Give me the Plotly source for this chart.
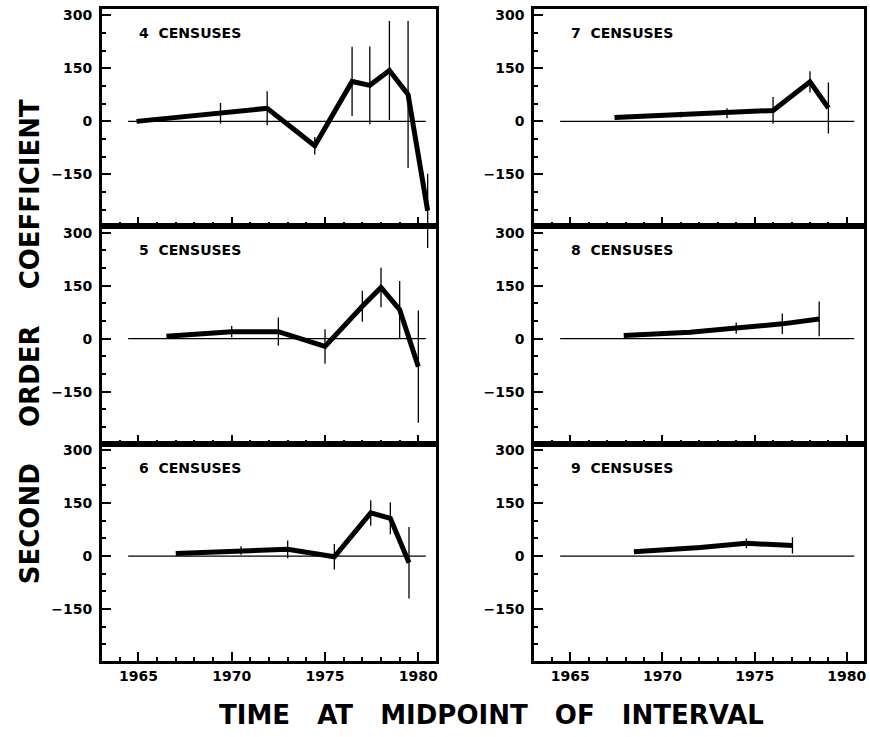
import plotly.graph_objects as go

# ---------------- data ----------------
panel_labels = ["4  CENSUSES", "5  CENSUSES", "6  CENSUSES",
                "7  CENSUSES", "8  CENSUSES", "9  CENSUSES"]

x4 = [1964.9, 1969.4, 1971.9, 1974.45, 1976.45, 1977.4, 1978.45, 1979.45, 1980.5]
y4 = [0, 23, 37, -69, 113, 102, 144, 76, -253]
e4 = [0, 29, 48, 25, 98, 110, 140, 208, 105]

x5 = [1966.5, 1970.0, 1972.5, 1975.0, 1977.0, 1978.0, 1979.0, 1980.0]
y5 = [7, 20, 20, -22, 92, 145, 82, -79]
e5 = [0, 16, 40, 49, 44, 56, 81, 159]

x6 = [1967.0, 1970.5, 1973.0, 1975.5, 1977.45, 1978.5, 1979.5]
y6 = [7, 16, 19, -2, 122, 107, -19]
e6 = [0, 12, 25, 36, 36, 45, 101]

x7 = [1967.4, 1971.0, 1973.5, 1976.0, 1978.0, 1979.0]
y7 = [11, 19, 23, 31, 112, 38]
e7 = [0, 8, 14, 38, 30, 72]

x8 = [1967.9, 1971.5, 1974.0, 1976.5, 1978.5]
y8 = [9, 18, 30, 42, 56]
e8 = [0, 6, 16, 29, 49]

x9 = [1968.45, 1972.05, 1974.55, 1977.05]
y9 = [12, 24, 36, 30]
e9 = [0, 6, 14, 23]

zero_line_x = [1964.45, 1980.4]
zero_line_y = [0, 0]

x_ticks = [1965, 1970, 1975, 1980]
y_ticks = [-150, 0, 150, 300]

series = [(x4, y4, e4), (x5, y5, e5), (x6, y6, e6),
          (x7, y7, e7), (x8, y8, e8), (x9, y9, e9)]

# ---------------- layout helpers ----------------
FONT = "DejaVu Sans"
W, H = 870, 737
ML, MR, MT, MB = 102, 3, 9, 76
PW = W - ML - MR

col_domains = [[0, 335 / PW], [434 / PW, 1.0]]
row_domains = [[2 / 3, 1.0], [1 / 3, 2 / 3], [0.0, 1 / 3]]
XR = [1963.05, 1980.93]
YR = [-297, 318]
# extension of the top-left panel: same scale, spans two rows (error bar runs past frame)
YR_EXT = [YR[1] - 2 * (YR[1] - YR[0]), YR[1]]

fig = go.Figure()
layout = dict(
    width=W, height=H,
    margin=dict(l=ML, r=MR, t=MT, b=MB, pad=0),
    paper_bgcolor="white", plot_bgcolor="rgba(0,0,0,0)",
    showlegend=False,
    font=dict(family=FONT, color="black", weight="bold"),
)

layout["xaxis7"] = dict(domain=col_domains[0], anchor="y7", range=XR,
                        visible=False, fixedrange=True)
layout["yaxis7"] = dict(domain=[1 / 3, 1.0], anchor="x7", range=YR_EXT,
                        visible=False, fixedrange=True)

annotations = []
for i, (xs, ys, es) in enumerate(series):
    col = i // 3
    row = i % 3
    n = i + 1
    xa = "x" if n == 1 else f"x{n}"
    ya = "y" if n == 1 else f"y{n}"
    xkey = "xaxis" if n == 1 else f"xaxis{n}"
    ykey = "yaxis" if n == 1 else f"yaxis{n}"

    layout[xkey] = dict(
        domain=col_domains[col], anchor=ya, range=XR,
        showline=True, linecolor="black", linewidth=3, mirror=True,
        showgrid=False, zeroline=False,
        tickmode="array", tickvals=x_ticks,
        ticks="inside", ticklen=9, tickwidth=1.5, tickcolor="black",
        minor=dict(tick0=1965, dtick=1, ticks="inside", ticklen=4,
                   tickwidth=1.5, tickcolor="black", showgrid=False),
        showticklabels=(row == 2),
        tickfont=dict(family=FONT, size=14, color="black", weight="bold"),
        fixedrange=True,
    )
    layout[ykey] = dict(
        domain=row_domains[row], anchor=xa, range=YR,
        showline=True, linecolor="black", linewidth=3, mirror=True,
        showgrid=False, zeroline=False,
        tickmode="array", tickvals=y_ticks,
        ticks="inside", ticklen=9, tickwidth=1.5, tickcolor="black",
        minor=dict(tick0=0, dtick=50, ticks="inside", ticklen=4,
                   tickwidth=1.5, tickcolor="black", showgrid=False),
        tickfont=dict(family=FONT, size=14, color="black", weight="bold"),
        ticklabelstandoff=4,
        fixedrange=True,
    )

    fig.add_trace(go.Scatter(
        x=zero_line_x, y=zero_line_y, mode="lines",
        line=dict(color="black", width=1.3),
        xaxis=xa, yaxis=ya, hoverinfo="skip"))

    dxa, dya = (("x7", "y7") if n == 1 else (xa, ya))
    fig.add_trace(go.Scatter(
        x=xs, y=ys, mode="lines",
        line=dict(color="black", width=5),
        error_y=dict(type="data", array=es, visible=True,
                     color="black", thickness=1.3, width=0),
        xaxis=dxa, yaxis=dya))

    annotations.append(dict(
        text=panel_labels[i].replace(" ", "\u00a0"),
        xref=f"{xa} domain", yref=f"{ya} domain",
        x=0.105, y=0.89, xanchor="left", yanchor="middle",
        showarrow=False,
        font=dict(family=FONT, size=14, color="black", weight="bold")))

annotations.append(dict(
    text="SECOND\u00a0\u00a0\u00a0\u00a0ORDER\u00a0\u00a0\u00a0\u00a0COEFFICIENT",
    xref="paper", yref="paper",
    x=(30 - ML) / PW, y=(H - MB - 342) / (H - MT - MB),
    xanchor="center", yanchor="middle", textangle=-90, showarrow=False,
    font=dict(family=FONT, size=26, color="black", weight="bold")))

annotations.append(dict(
    text="TIME\u00a0\u00a0\u00a0AT\u00a0\u00a0\u00a0MIDPOINT\u00a0\u00a0\u00a0OF\u00a0\u00a0\u00a0INTERVAL",
    xref="paper", yref="paper",
    x=(493 - ML) / PW, y=(H - MB - 715) / (H - MT - MB),
    xanchor="center", yanchor="middle", showarrow=False,
    font=dict(family=FONT, size=26, color="black", weight="bold")))

layout["annotations"] = annotations
fig.update_layout(**layout)

fig.write_html("out.html")
